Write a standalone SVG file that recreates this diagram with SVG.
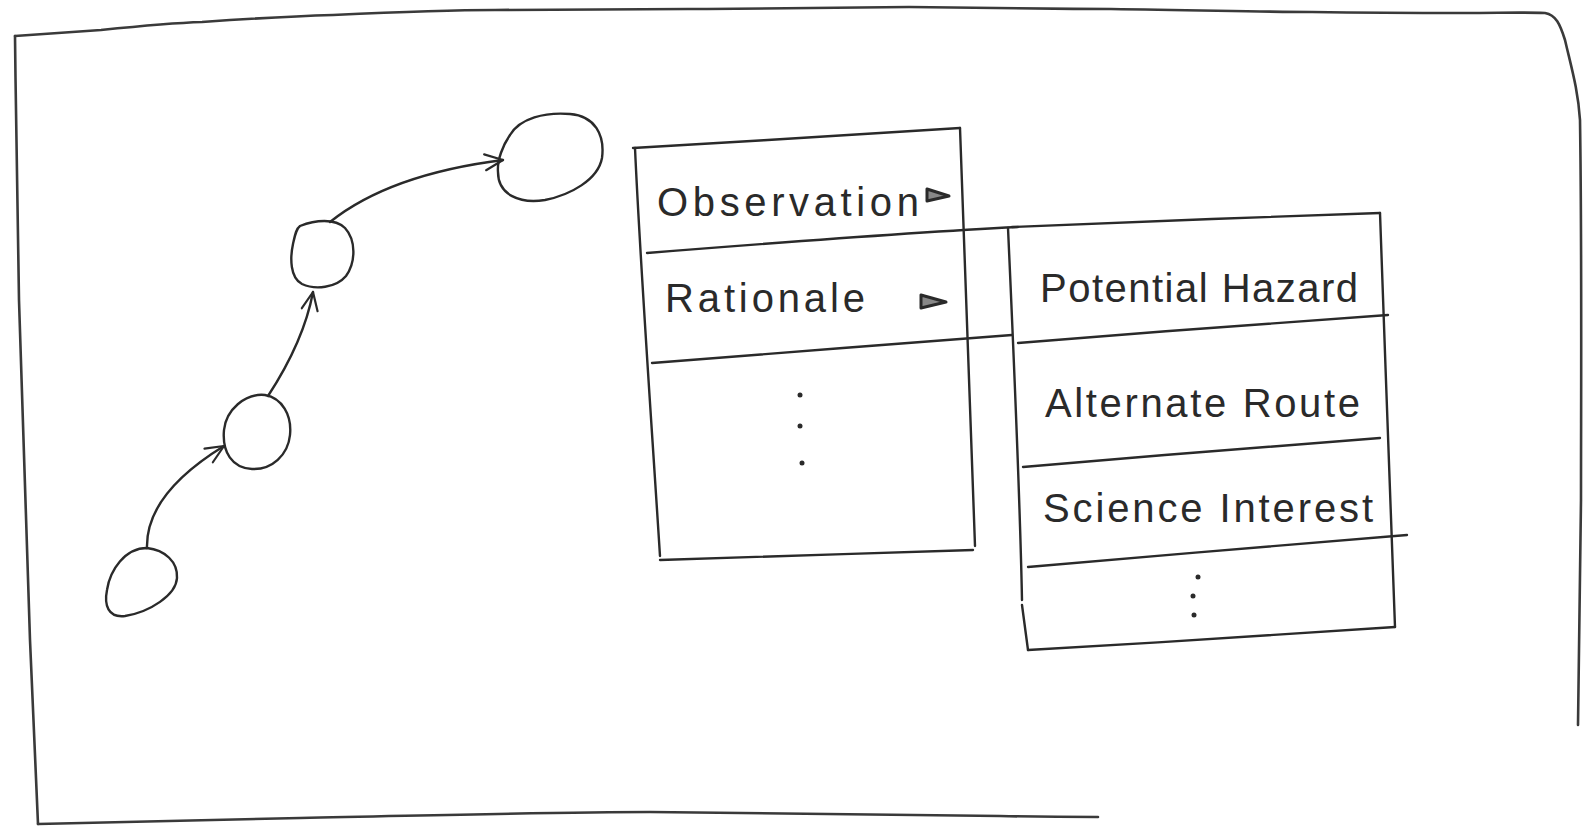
<svg xmlns="http://www.w3.org/2000/svg" width="1583" height="830" viewBox="0 0 1583 830">
<style>
.ln{fill:none;stroke:#2a2a2a;stroke-width:2.4;stroke-linecap:round;stroke-linejoin:round}
.fr{fill:none;stroke:#3a3a3a;stroke-width:2.6;stroke-linecap:round;stroke-linejoin:round}
.tx{font-family:"Liberation Sans",Arial,sans-serif;font-size:40px;fill:#2a2a2a}
.dot{fill:#2a2a2a}
.tri{fill:#888888;stroke:#2a2a2a;stroke-width:3;stroke-linejoin:round}
</style>
<defs>
<marker id="arr" viewBox="-22 -12 26 24" markerWidth="26" markerHeight="24" refX="0" refY="0" orient="auto" markerUnits="userSpaceOnUse">
<path d="M-18,-8 L0,0 L-18,8" fill="none" stroke="#2a2a2a" stroke-width="2.2" stroke-linecap="round" stroke-linejoin="round"/>
</marker>
</defs>
<rect width="1583" height="830" fill="#ffffff"/>

<g id="frame">
<path class="fr" d="M15,36 C60,33 90,31 101,30 C140,26 170,23 202,22 C260,18 300,16 333,15 C420,11 460,10 495,10 C600,9 650,9 707,9 C800,8 860,7 909,7 C1000,8 1050,9 1111,9 C1200,10 1260,12 1312,12 C1380,13 1420,13 1464,13 C1500,13 1520,12 1545,13 C1556,15 1560,24 1565,40 C1572,70 1578,90 1580,120 C1582,250 1581,400 1581,500 C1580,600 1579,680 1578,725"/>
<path class="fr" d="M15,36 C16,120 17,200 19,300 C22,420 26,540 30,640 C33,720 36,780 38,824"/>
<path class="fr" d="M38,824 C120,822 200,820 300,818 C450,815 560,812 650,812 C800,813 900,815 1000,816 C1050,817 1080,817 1098,817"/>
</g>

<g id="node1">
<path class="ln" d="M147,548 C165,550 178,562 177,578 C176,595 150,612 125,616 C108,618 104,605 107,590 C110,570 125,548 147,548 Z"/>
</g>
<g id="node2">
<path class="ln" d="M265,395 C282,398 292,415 290,435 C288,455 272,470 252,469 C232,468 222,452 224,430 C226,410 245,393 265,395 Z"/>
</g>
<g id="node3">
<path class="ln" d="M300,226 C315,220 335,218 345,228 C356,240 356,262 346,276 C336,288 315,290 302,284 C290,278 290,258 293,244 C295,235 296,229 300,226 Z"/>
</g>
<g id="node4">
<path class="ln" d="M510,135 C520,118 545,112 570,114 C595,116 605,135 602,158 C598,180 570,195 545,200 C520,204 498,195 498,172 C497,160 503,145 510,135 Z"/>
</g>

<g id="connectors">
<path class="ln" d="M147,548 C146,512 172,478 224,446" marker-end="url(#arr)"/>
<path class="ln" d="M268,396 C285,370 305,335 313,292" marker-end="url(#arr)"/>
<path class="ln" d="M330,222 C375,186 440,168 503,160" marker-end="url(#arr)"/>
</g>

<g id="table1">
<path class="ln" d="M633,148 C740,142 860,134 960,128"/>
<path class="ln" d="M635,148 C640,260 650,400 660,556"/>
<path class="ln" d="M960,128 C965,260 970,400 975,546"/>
<path class="ln" d="M660,560 C760,557 870,553 973,550"/>
<path class="ln" d="M647,253 C760,244 900,233 1018,227"/>
<path class="ln" d="M652,363 C760,355 900,343 1012,335"/>
<text class="tx" x="657" y="216" textLength="262" lengthAdjust="spacing">Observation</text>
<polygon class="tri" points="927,189 927,201 949,196"/>
<text class="tx" x="665" y="312" textLength="200" lengthAdjust="spacing">Rationale</text>
<polygon class="tri" points="921,295 921,308 946,302"/>
<circle class="dot" cx="800" cy="395" r="2.5"/>
<circle class="dot" cx="800" cy="426" r="2.5"/>
<circle class="dot" cx="802" cy="463" r="2.5"/>
</g>

<g id="table2">
<path class="ln" d="M1012,227 C1130,222 1260,217 1380,213"/>
<path class="ln" d="M1008,228 C1014,360 1020,500 1022,600 M1022,605 C1024,620 1026,635 1028,650"/>
<path class="ln" d="M1380,213 C1385,350 1390,500 1395,627"/>
<path class="ln" d="M1028,650 C1150,643 1280,635 1395,627"/>
<path class="ln" d="M1018,343 C1140,333 1270,323 1388,315"/>
<path class="ln" d="M1023,467 C1140,457 1270,446 1380,438"/>
<path class="ln" d="M1028,567 C1150,556 1290,545 1407,535"/>
<text class="tx" x="1040" y="302" textLength="318" lengthAdjust="spacing">Potential Hazard</text>
<text class="tx" x="1045" y="417" textLength="315" lengthAdjust="spacing">Alternate Route</text>
<text class="tx" x="1043" y="522" textLength="330" lengthAdjust="spacing">Science Interest</text>
<circle class="dot" cx="1198" cy="577" r="2.5"/>
<circle class="dot" cx="1193" cy="596" r="2.5"/>
<circle class="dot" cx="1194" cy="615" r="2.5"/>
</g>
</svg>
